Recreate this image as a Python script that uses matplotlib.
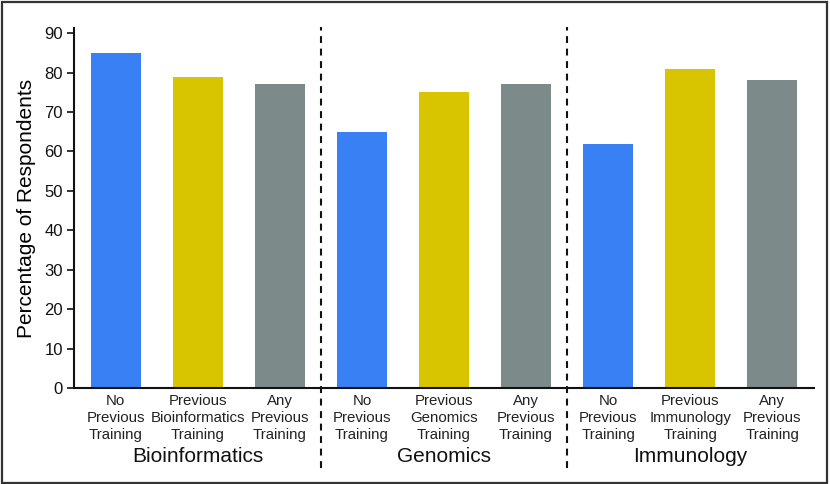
import numpy as np
import matplotlib
matplotlib.use('Agg')
from matplotlib import pyplot as plt
from matplotlib.patches import Rectangle

# Dados
groups = ['Bioinformatics', 'Genomics', 'Immunology']
bar_labels = ['No\nPrevious\nTraining', 'Previous\nBioinformatics\nTraining', 'Any\nPrevious\nTraining',
              'No\nPrevious\nTraining', 'Previous\nGenomics\nTraining', 'Any\nPrevious\nTraining',
              'No\nPrevious\nTraining', 'Previous\nImmunology\nTraining', 'Any\nPrevious\nTraining']
values = [85, 79, 77, 65, 75, 77, 62, 81, 78]
colors = ['#3a80f5', '#d9c400', '#7c8a89'] * 3

plt.rcParams['font.family'] = ['Liberation Sans', 'DejaVu Sans']

fig = plt.figure(figsize=(8.3, 4.84), dpi=100)
ax = fig.add_axes([0.0892, 0.1983, 0.8915, 0.7438])

x = np.arange(len(values))
ax.bar(x, values, width=0.61, color=colors)

ax.set_xlim(-0.51, 8.51)
ax.set_ylim(0, 91.3)
ax.set_yticks(np.arange(0, 91, 10))
ax.set_xticks(x, bar_labels, fontsize=10.8, linespacing=1.3, color='#222222')
ax.tick_params(axis='x', length=0, pad=4)
ax.tick_params(axis='y', direction='out', length=5, width=1.2, labelsize=12, pad=3, colors='#111111')
ax.set_ylabel('Percentage of Respondents', fontsize=15, labelpad=6)

for s in ['top', 'right']:
    ax.spines[s].set_visible(False)
for s in ['left', 'bottom']:
    ax.spines[s].set_linewidth(1.5)
    ax.spines[s].set_color('#111111')

# Linhas tracejadas entre os grupos
for pos in [2.5, 5.5]:
    ax.axvline(pos, ymin=-0.222, ymax=1.003, color='#111111', lw=1.5,
               linestyle=(0, (3.3, 2.7)), clip_on=False)

# Nomes dos grupos
for i, g in enumerate(groups):
    ax.text(3 * i + 1, -0.19, g, transform=ax.get_xaxis_transform(), ha='center', va='center',
            fontsize=15, color='#111111')

# Moldura da figura
fig.patches.append(Rectangle((0.002, 0.003), 0.994, 0.993, transform=fig.transFigure,
                             fill=False, edgecolor='#333333', lw=1.6))

plt.savefig('out.png', dpi=100)
